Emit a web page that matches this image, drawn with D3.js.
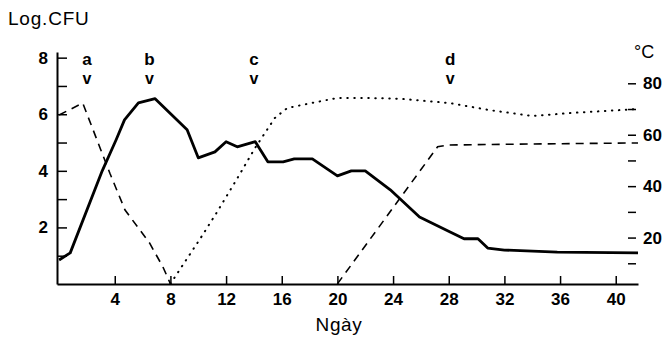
<!DOCTYPE html>
<html>
<head>
<meta charset="utf-8">
<script src="https://cdn.jsdelivr.net/npm/d3@7"></script>
<style>
  body { margin: 0; background: #fff; }
  svg text { font-family: "Liberation Sans", Arial, sans-serif; fill: #000; }
</style>
</head>
<body>
<div id="chart"></div>
<script>
"use strict"

// solid line: Log.CFU by day
var cfuDays = [0, 0.8, 3.1, 4.1, 4.7, 5.7, 6.9, 9.2, 10.0, 11.2, 12.0, 12.8, 14.1, 15.0, 16.1, 16.9, 18.2, 20.0, 21.0, 22.0, 23.8, 25.9, 28.1, 29.1, 30.1, 30.8, 32.0, 35.8, 41.6];
var cfuValues = [0.85, 1.1, 4.0, 5.1, 5.8, 6.4, 6.55, 5.45, 4.46, 4.67, 5.03, 4.85, 5.03, 4.32, 4.32, 4.42, 4.42, 3.82, 4.0, 4.0, 3.33, 2.37, 1.84, 1.6, 1.6, 1.27, 1.2, 1.13, 1.1];

// dashed line (°C), two pieces
var dashDaysA = [0, 1.7, 3.65, 4.74, 6.5, 7.46, 8.0];
var dashValuesA = [67.7, 72.3, 45, 30.7, 17.9, 8.6, 2];
var dashDaysB = [20.0, 27.2, 28.0, 34, 41.6];
var dashValuesB = [2, 55.3, 56, 56.4, 56.8];

// dotted line (°C)
var dotDays = [8.0, 10.25, 11.3, 12.8, 14.1, 15.5, 16.4, 18.5, 20.0, 22.1, 24.5, 28.1, 30.9, 34.0, 36.9, 41.6];
var dotValues = [2, 20.5, 29.5, 43, 55, 66.5, 70.4, 72.7, 74.3, 74.3, 74, 72.3, 69.6, 67.3, 68.5, 70];

var dayTicks = [4, 8, 12, 16, 20, 24, 28, 32, 36, 40];
var cfuTicks = [1, 2, 3, 4, 5, 6, 7, 8];
var tempTicks = [10, 20, 30, 40, 50, 60, 70, 80];

var stageNames = ["a", "b", "c", "d"];
var stageDays = [2, 6.5, 14, 28.1];

var width = 668, height = 344;

var svg = d3.select("#chart").append("svg")
  .attr("width", width)
  .attr("height", height);

var x = d3.scaleLinear().domain([-0.15, 41.6]).range([57, 638]);
var yL = d3.scaleLinear().domain([0, 8.2]).range([284, 52]);
var yR = d3.scaleLinear().domain([0, 80]).range([289, 83.3]);

// left axis
var leftAxis = svg.append("g")
  .attr("transform", "translate(57,0)")
  .call(d3.axisLeft(yL)
    .tickValues(cfuTicks)
    .tickSize(-10)
    .tickSizeOuter(0)
    .tickPadding(9)
    .tickFormat(function(d){ return d % 2 === 0 ? d : ""; }));

// bottom axis
var bottomAxis = svg.append("g")
  .attr("transform", "translate(0,284)")
  .call(d3.axisBottom(x)
    .tickValues(dayTicks)
    .tickSize(-8)
    .tickSizeOuter(0)
    .tickPadding(9));

// right axis, ticks only
var rightAxis = svg.append("g")
  .attr("transform", "translate(628,0)")
  .call(d3.axisRight(yR)
    .tickValues(tempTicks)
    .tickSize(8)
    .tickPadding(7)
    .tickFormat(function(d){ return d % 20 === 0 ? d : ""; }));
rightAxis.select(".domain").remove();

[leftAxis, bottomAxis, rightAxis].forEach(function(g){
  g.selectAll("text")
    .style("font-size", "17px")
    .style("font-weight", "bold")
    .style("font-family", "'Liberation Sans', Arial, sans-serif");
  g.selectAll(".tick line")
    .attr("stroke", "#000")
    .attr("stroke-width", 1.5);
  g.select(".domain")
    .attr("stroke", "#000")
    .attr("stroke-width", 2);
});

// lines
var lineL = d3.line()
  .x(function(d){ return x(d[0]); })
  .y(function(d){ return yL(d[1]); });
var lineR = d3.line()
  .x(function(d){ return x(d[0]); })
  .y(function(d){ return yR(d[1]); });

svg.append("path")
  .datum(d3.zip(dotDays, dotValues))
  .attr("d", lineR)
  .attr("fill", "none")
  .attr("stroke", "#000")
  .attr("stroke-width", 2)
  .attr("stroke-linecap", "round")
  .attr("stroke-dasharray", "0.5,6.5");

[d3.zip(dashDaysA, dashValuesA), d3.zip(dashDaysB, dashValuesB)].forEach(function(pts){
  svg.append("path")
    .datum(pts)
    .attr("d", lineR)
    .attr("fill", "none")
    .attr("stroke", "#000")
    .attr("stroke-width", 1.6)
    .attr("stroke-dasharray", "8,6");
});

svg.append("path")
  .datum(d3.zip(cfuDays, cfuValues))
  .attr("d", lineL)
  .attr("fill", "none")
  .attr("stroke", "#000")
  .attr("stroke-width", 2.8)
  .attr("stroke-linejoin", "round");

// stage markers
var marks = svg.selectAll(".stage")
  .data(d3.zip(stageNames, stageDays))
  .enter().append("g")
  .attr("class", "stage")
  .attr("transform", function(d){ return "translate(" + x(d[1]) + ",0)"; });
marks.append("text")
  .attr("y", 65)
  .attr("text-anchor", "middle")
  .style("font-size", "17px")
  .style("font-weight", "bold")
  .text(function(d){ return d[0]; });
marks.append("text")
  .attr("y", 84)
  .attr("text-anchor", "middle")
  .style("font-size", "16px")
  .style("font-weight", "bold")
  .text("v");

// titles
svg.append("text")
  .attr("x", 8)
  .attr("y", 25)
  .style("font-size", "19px")
  .style("letter-spacing", "0.8px")
  .text("Log.CFU");

svg.append("text")
  .attr("x", 634)
  .attr("y", 58)
  .style("font-size", "18px")
  .text("°C");

svg.append("text")
  .attr("x", 339)
  .attr("y", 331)
  .attr("text-anchor", "middle")
  .style("font-size", "19px")
  .style("letter-spacing", "0.6px")
  .text("Ngày");
</script>
</body>
</html>
